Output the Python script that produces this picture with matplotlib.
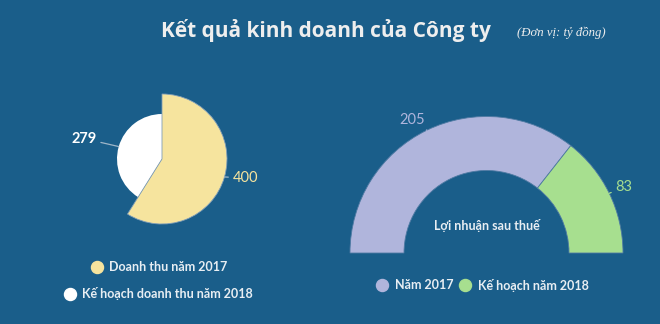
import numpy as np
import matplotlib.pyplot as plt

# --- data
title = 'Kết quả kinh doanh của Công ty'
unit = '(Đơn vị: tỷ đồng)'

rev_labels = ['Doanh thu năm 2017', 'Kế hoạch doanh thu năm 2018']
rev_values = [400, 279]
rev_colors = ['#f6e49e', '#ffffff']

profit_labels = ['Năm 2017', 'Kế hoạch năm 2018']
profit_values = [205, 83]
profit_colors = ['#b0b5dc', '#a7df8f']
profit_title = 'Lợi nhuận sau thuế'

bg = '#1a5e8a'
txt = '#e8eef3'
W, H = 660, 324

plt.rcParams['font.family'] = ['Open Sans', 'DejaVu Sans']
lato = ['Lato', 'Open Sans', 'DejaVu Sans']

fig = plt.figure(figsize=(W / 100, H / 100), dpi=100)
fig.patch.set_facecolor(bg)
ax = fig.add_axes([0, 0, 1, 1])
ax.set_facecolor(bg)


def Y(y):
    # pixel row (from top) -> data y
    return H - y


# --- left: variable radius pie (one pie per slice, others hidden)
c1 = (162, Y(159))
radii = [65, 45]
for i, r in enumerate(radii):
    wedges, _ = ax.pie(rev_values, colors=rev_colors, radius=r, center=c1,
                       startangle=90, counterclock=False, frame=True,
                       wedgeprops=dict(linewidth=0.6, edgecolor='#7f9db8'))
    for j, wdg in enumerate(wedges):
        if j != i:
            wdg.set_visible(False)
    wedges[i].set_zorder(2 if i == 0 else 1)
    if i == 1:
        wedges[i].set_linewidth(0)

total = sum(rev_values)
start = 0.0
lab_off = [(8, 1), (-22, -8)]
lab_col = ['#f6e49e', '#ffffff']
lab_w = ['normal', 'bold']
for i, v in enumerate(rev_values):
    mid = np.deg2rad(start + v / total * 360 / 2)
    start += v / total * 360
    px = c1[0] + radii[i] * np.sin(mid)
    py = c1[1] + radii[i] * np.cos(mid)
    tx, ty = px + lab_off[i][0], py - lab_off[i][1]
    ha = 'left' if np.sin(mid) > 0 else 'right'
    ax.annotate(str(v), xy=(px, py), xytext=(tx, ty), ha=ha, va='center',
                color=lab_col[i], fontsize=10.5, fontweight=lab_w[i],
                family=lato,
                arrowprops=dict(arrowstyle='-', color='#9fb6c8', lw=0.9,
                                shrinkA=1, shrinkB=0))

# --- right: half donut (hidden slice fills the lower half)
c2 = (486.5, Y(253))
R, w = 136.5, 54
wedges, _ = ax.pie(profit_values + [sum(profit_values)],
                   colors=profit_colors + ['none'], radius=R, center=c2,
                   startangle=180, counterclock=False, frame=True,
                   wedgeprops=dict(width=w, linewidth=0.6, edgecolor='#4f7aa3'))
wedges[-1].set_visible(False)
ax.text(c2[0], Y(226), profit_title, ha='center', va='center', color=txt,
        fontsize=9, fontweight='bold', family=lato)

tot2 = sum(profit_values)
start = 0.0
offs2 = [(-2, 10), (6, 6)]
for i, v in enumerate(profit_values):
    mid = np.deg2rad(180 - (start + v / tot2 * 180 / 2))
    start += v / tot2 * 180
    px = c2[0] + R * np.cos(mid)
    py = c2[1] + R * np.sin(mid)
    tx, ty = px + offs2[i][0], py + offs2[i][1]
    ax.annotate(str(v), xy=(px, py), xytext=(tx, ty),
                ha='right' if i == 0 else 'left', va='center',
                color=profit_colors[i], fontsize=10.5, family=lato,
                arrowprops=dict(arrowstyle='-', color=profit_colors[i], lw=0.9,
                                shrinkA=1, shrinkB=0))

# --- legends
leg1 = [(97, 267), (70, 294)]
for (x, y), lab, col in zip(leg1, rev_labels, rev_colors):
    ax.scatter([x], [Y(y)], s=75, color=col, zorder=3)
    ax.text(x + 12, Y(y), lab, ha='left', va='center', color=txt,
            fontsize=9, fontweight='bold', family=lato)

leg2 = [(382, 285), (465, 285)]
for (x, y), lab, col in zip(leg2, profit_labels, profit_colors):
    ax.scatter([x], [Y(y)], s=75, color=col, zorder=3)
    ax.text(x + 13, Y(y), lab, ha='left', va='center', color=txt,
            fontsize=9, fontweight='bold', family=lato)

# --- titles
ax.text(326, Y(30), title, ha='center', va='center', color='#eeeeee',
        fontsize=15, fontweight='bold')
ax.text(561, Y(33), unit, ha='center', va='center', color='#eeeeee',
        fontsize=9.2, fontstyle='italic', family=['Liberation Serif', 'DejaVu Serif'])

ax.set_xlim(0, W)
ax.set_ylim(0, H)
ax.set_aspect('equal')
ax.axis('off')

fig.savefig('out.png', dpi=100, facecolor=bg)
